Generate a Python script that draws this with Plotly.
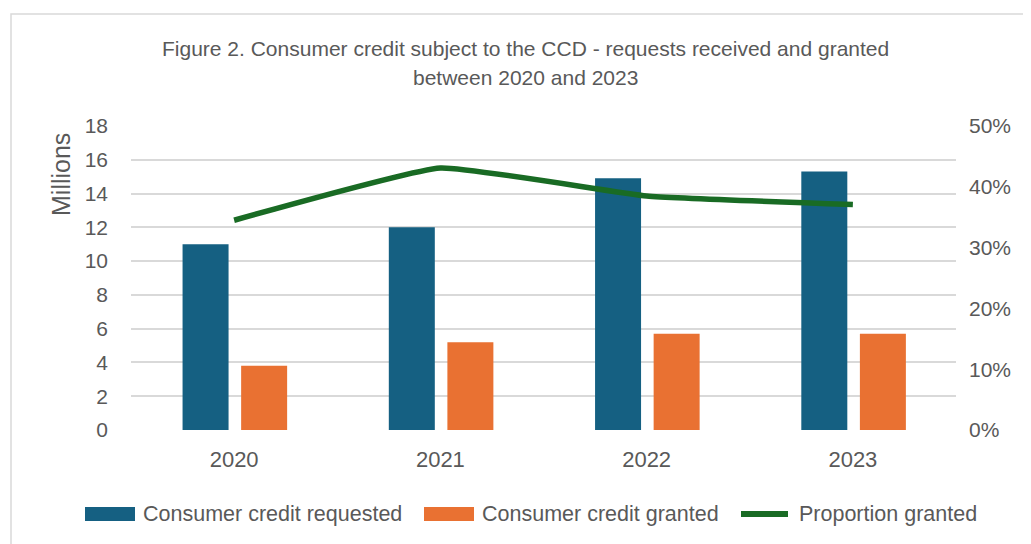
import plotly.graph_objects as go

years = ["2020", "2021", "2022", "2023"]
requested = [11.0, 12.0, 14.9, 15.3]
granted = [3.8, 5.2, 5.7, 5.7]
proportion = [0.345, 0.431, 0.385, 0.371]

left_ticks = [0, 2, 4, 6, 8, 10, 12, 14, 16, 18]
right_ticks = [0, 0.1, 0.2, 0.3, 0.4, 0.5]
right_labels = ["0%", "10%", "20%", "30%", "40%", "50%"]

title_lines = ["Figure 2. Consumer credit subject to the CCD - requests received and granted",
               "between 2020 and 2023"]
series_names = ["Consumer credit requested", "Consumer credit granted", "Proportion granted"]

BLUE = "#156082"
ORANGE = "#E97132"
GREEN = "#196B24"
TXT = "#595959"
GRID = "#D9D9D9"
FONT = "Liberation Sans, Arial, sans-serif"

# plot area in page pixels (page has an 8px body offset)
PL, PR, PT, PB = 131, 956, 126, 430
OFF = 8
W, H = 1031, 544


def px(x):
    return (x - PL) / (PR - PL)


def py(y):
    return (PB - y) / (PB - PT)


fig = go.Figure()
fig.add_trace(go.Bar(x=years, y=requested, name=series_names[0],
                     marker=dict(color=BLUE, line=dict(width=0)),
                     width=0.223, offset=-0.250, hoverinfo="y"))
fig.add_trace(go.Bar(x=years, y=granted, name=series_names[1],
                     marker=dict(color=ORANGE, line=dict(width=0)),
                     width=0.223, offset=0.034, hoverinfo="y"))
fig.add_trace(go.Scatter(x=years, y=proportion, name=series_names[2],
                         mode="lines", yaxis="y2",
                         line=dict(color=GREEN, width=5.5, shape="spline", smoothing=0.35)))

fig.update_layout(
    width=W, height=H,
    margin=dict(l=PL - OFF, r=W - (PR - OFF), t=PT - OFF, b=H - (PB - OFF), autoexpand=False),
    paper_bgcolor="white", plot_bgcolor="white",
    barmode="overlay",
    showlegend=False,
    font=dict(family=FONT, color=TXT, size=21),
    xaxis=dict(type="category", showgrid=False, showline=False, zeroline=False,
               ticks="", tickfont=dict(size=22), ticklabelstandoff=14),
    yaxis=dict(range=[0, 18], tickvals=left_ticks, showgrid=True, gridcolor=GRID,
               gridwidth=1.5, zeroline=False, showline=False, ticks="",
               tickfont=dict(size=21), ticklabelstandoff=22),
    yaxis2=dict(range=[0, 0.5], tickvals=right_ticks, ticktext=right_labels,
                overlaying="y", side="right", showgrid=False, zeroline=False,
                showline=False, ticks="", tickfont=dict(size=21), ticklabelstandoff=12),
)

# title (two centered lines)
for line, yy in zip(title_lines, [48, 78]):
    fig.add_annotation(text=line, xref="paper", yref="paper", x=px(525), y=py(yy),
                       xanchor="center", yanchor="middle", showarrow=False,
                       font=dict(size=21, color=TXT, family=FONT))

# y-axis title
fig.add_annotation(text="Millions", textangle=-90, xref="paper", yref="paper",
                   x=px(61), y=py(175), xanchor="center", yanchor="middle",
                   showarrow=False, font=dict(size=25, color=TXT, family=FONT))

# chart border
fig.add_shape(type="rect", xref="paper", yref="paper",
              x0=px(11), x1=px(1045), y0=py(560), y1=py(14),
              line=dict(color=GRID, width=1.5), fillcolor="rgba(0,0,0,0)", layer="below")

# legend (drawn manually to match swatch sizes)
LY = 514
fig.add_shape(type="rect", xref="paper", yref="paper", x0=px(85), x1=px(135),
              y0=py(LY + 7), y1=py(LY - 7), fillcolor=BLUE, line=dict(width=0))
fig.add_shape(type="rect", xref="paper", yref="paper", x0=px(424), x1=px(474),
              y0=py(LY + 7), y1=py(LY - 7), fillcolor=ORANGE, line=dict(width=0))
fig.add_shape(type="line", xref="paper", yref="paper", x0=px(741), x1=px(788),
              y0=py(LY), y1=py(LY), line=dict(color=GREEN, width=6))
for name, xx in zip(series_names, [141, 480, 797]):
    fig.add_annotation(text=name, xref="paper", yref="paper", x=px(xx), y=py(LY),
                       xanchor="left", yanchor="middle", showarrow=False,
                       font=dict(size=21.5, color=TXT, family=FONT))

fig.write_html("out.html")
